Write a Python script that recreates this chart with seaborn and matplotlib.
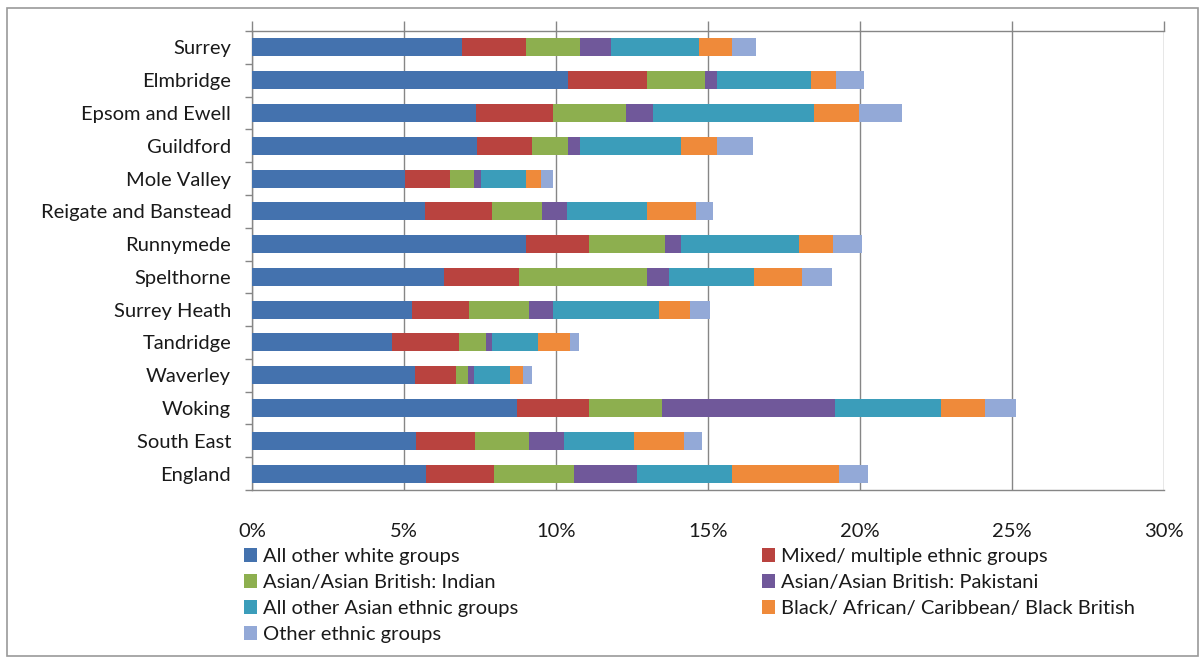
import matplotlib
matplotlib.use("Agg")
import matplotlib.pyplot as plt
import seaborn as sns
import pandas as pd
import numpy as np
from matplotlib.patches import Patch, Rectangle
from matplotlib.ticker import FixedLocator, FuncFormatter

# ---------------- data (percent of population) ----------------
areas = ["Surrey", "Elmbridge", "Epsom and Ewell", "Guildford", "Mole Valley",
         "Reigate and Banstead", "Runnymede", "Spelthorne", "Surrey Heath",
         "Tandridge", "Waverley", "Woking", "South East", "England"]

other_white = [6.90, 10.38, 7.36, 7.39, 5.03, 5.69, 9.00, 6.32, 5.25, 4.62, 5.36, 8.71, 5.38, 5.71]
mixed       = [2.10, 2.60, 2.55, 1.81, 1.48, 2.19, 2.10, 2.47, 1.88, 2.19, 1.35, 2.39, 1.94, 2.26]
indian      = [1.79, 1.92, 2.39, 1.18, 0.80, 1.65, 2.49, 4.19, 1.97, 0.88, 0.41, 2.40, 1.78, 2.61]
pakistani   = [1.01, 0.38, 0.88, 0.41, 0.21, 0.84, 0.52, 0.73, 0.81, 0.19, 0.19, 5.69, 1.17, 2.09]
other_asian = [2.90, 3.10, 5.31, 3.31, 1.48, 2.61, 3.87, 2.80, 3.48, 1.53, 1.19, 3.47, 2.31, 3.11]
black       = [1.10, 0.83, 1.48, 1.21, 0.51, 1.61, 1.12, 1.58, 1.02, 1.05, 0.40, 1.45, 1.64, 3.53]
other       = [0.78, 0.93, 1.41, 1.17, 0.40, 0.57, 0.95, 0.99, 0.65, 0.31, 0.30, 1.03, 0.58, 0.94]

series_names = ["All other white groups", "Mixed/ multiple ethnic groups",
                "Asian/Asian British: Indian", "Asian/Asian British: Pakistani",
                "All other Asian ethnic groups", "Black/ African/ Caribbean/ Black British",
                "Other ethnic groups"]
series_values = [other_white, mixed, indian, pakistani, other_asian, black, other]
colors = ["#4472AE", "#B9433F", "#8DAF4F", "#70589A", "#3B9DBA", "#EF8A3A", "#93A9D7"]

x_ticks = [0, 5, 10, 15, 20, 25, 30]

# ---------------- styling ----------------
sns.set_theme(style="white")
plt.rcParams["font.family"] = ["Lato", "DejaVu Sans"]
text_color = "#1a1a1a"
line_color = "#868686"
FS = 14.5

df = pd.DataFrame({name: vals for name, vals in zip(series_names, series_values)})
df.insert(0, "Area", areas)
cum = df[series_names].cumsum(axis=1)
cum.insert(0, "Area", areas)

W, H = 1201, 657
fig = plt.figure(figsize=(W / 100, H / 100), dpi=100)
left, right, top, bottom = 252, 1164, 31, 490
ax = fig.add_axes([left / W, 1 - bottom / H, (right - left) / W, (bottom - top) / H])

# stacked bars: draw cumulative totals from the outermost segment inward
for name, col in reversed(list(zip(series_names, colors))):
    sns.barplot(data=cum, x=name, y="Area", order=areas, orient="h",
                color=col, saturation=1, width=0.55, errorbar=None,
                edgecolor="none", linewidth=0, ax=ax, zorder=3)

ax.set_xlim(0, 30)
ax.set_ylim(len(areas) - 0.5, -0.5)
ax.set_xlabel("")
ax.set_ylabel("")

# grid
ax.set_axisbelow(True)
ax.xaxis.set_major_locator(FixedLocator(x_ticks))
ax.xaxis.set_major_formatter(FuncFormatter(lambda v, p: f"{v:.0f}%"))
ax.grid(axis="x", color=line_color, linewidth=1.0, zorder=0)
ax.grid(axis="y", visible=False)

for s in ["top", "left", "bottom"]:
    ax.spines[s].set_visible(True)
    ax.spines[s].set_color(line_color)
    ax.spines[s].set_linewidth(1.0)
ax.spines["right"].set_visible(False)

ax.tick_params(axis="x", which="major", top=True, bottom=False, labeltop=False,
               labelbottom=True, direction="out", length=7, width=1.0,
               color=line_color, pad=17, labelsize=FS, labelcolor=text_color)
ax.tick_params(axis="y", which="major", left=False, length=0, pad=15,
               labelsize=FS, labelcolor=text_color)
ax.yaxis.set_minor_locator(FixedLocator(np.arange(-0.5, len(areas), 1.0)))
ax.tick_params(axis="y", which="minor", left=True, direction="out", length=5,
               width=1.0, color=line_color)

# legend (two columns, row-major order as in the original)
handles = [Patch(facecolor=c, edgecolor="none") for c in colors]
col1 = [0, 2, 4, 6]
col2 = [1, 3, 5]
leg_kw = dict(loc="upper left", frameon=False, borderaxespad=0, borderpad=0,
              handlelength=0.65, handleheight=0.65, handletextpad=0.3,
              labelspacing=0.45, fontsize=FS, labelcolor=text_color)
fig.legend([handles[i] for i in col1], [series_names[i] for i in col1],
           bbox_to_anchor=(244 / W, 1 - 548 / H), **leg_kw)
fig.legend([handles[i] for i in col2], [series_names[i] for i in col2],
           bbox_to_anchor=(762 / W, 1 - 548 / H), **leg_kw)

# outer chart border
fig.patches.append(Rectangle((7 / W, 1 - 656 / H), (1198 - 7) / W, (656 - 8) / H,
                             transform=fig.transFigure, fill=False,
                             edgecolor="#9a9a9a", linewidth=1.2, zorder=0))

fig.savefig("out.png", dpi=100, facecolor="white")
